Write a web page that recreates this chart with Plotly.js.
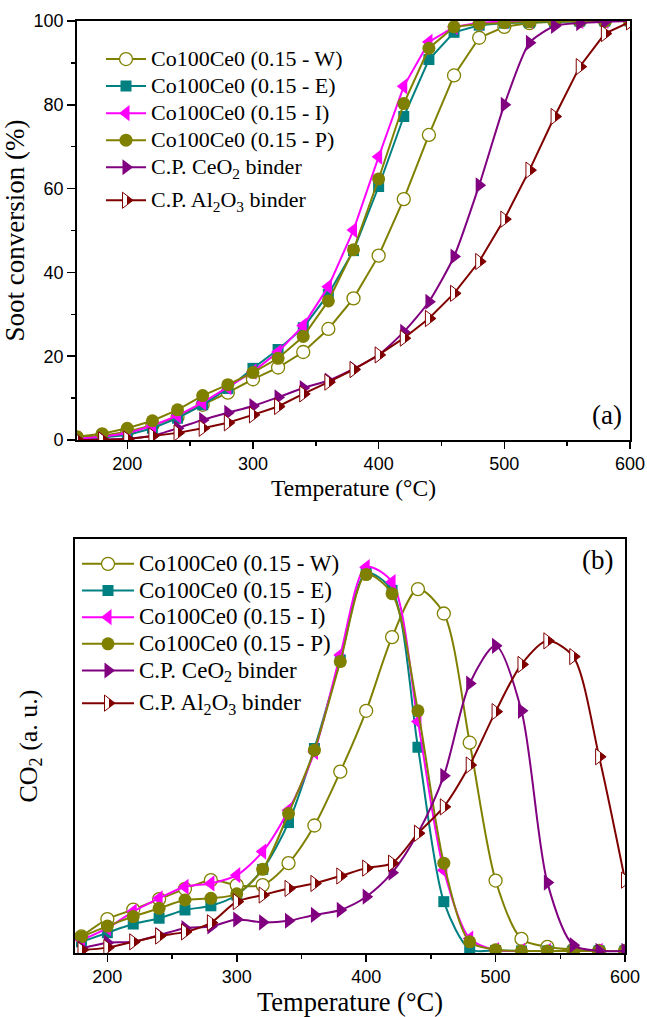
<!DOCTYPE html>
<html>
<head>
<meta charset="utf-8">
<script src="https://cdn.plot.ly/plotly-3.0.1.min.js"></script>
<style>
  html, body { margin: 0; padding: 0; background: #fff; }
  #chart { width: 647px; height: 1017px; }
</style>
</head>
<body>
<div id="chart"></div>
<script>
// ---- (a) soot conversion vs temperature ----
const tempA = [160,180,200,220,240,260,280,300,320,340,360,380,400,420,440,460,480,500,520,540,560,580,600];
const convW  = [0.5,1.0,2.0,3.5,5.5,8.4,11.3,14.5,17.3,21.0,26.5,33.8,44.0,57.5,72.8,87.0,96.0,98.6,99.5,99.8,100,100,100];
const convE  = [0.3,0.6,1.2,2.8,5.2,8.4,12.3,17.1,21.6,26.8,34.8,45.2,60.5,77.2,90.8,97.3,99.0,99.5,99.7,99.8,100,100,100];
const convI  = [0.3,0.8,1.6,3.4,5.8,8.9,12.6,16.3,21.0,27.3,36.6,50.1,67.6,84.4,95.0,98.6,99.6,99.9,100,100,100,100,100];
const convP  = [0.8,1.5,2.8,4.6,7.2,10.6,13.2,16.1,19.5,24.7,33.2,45.4,62.3,80.3,93.5,98.6,99.3,99.6,99.8,99.9,100,100,100];
const convCe = [0,0.1,0.3,1.0,2.8,4.8,6.5,8.1,10.2,12.4,14.2,17.0,20.3,25.8,33.0,43.8,60.8,80.0,94.8,98.8,99.5,99.8,100];
const convAl = [0,0,0.2,1.0,1.7,2.8,4.1,6.0,8.0,11.0,13.8,16.8,20.3,24.3,29.0,35.0,42.6,52.7,64.4,77.2,89.1,97.0,99.8];

// ---- (b) CO2 signal (arbitrary units) vs temperature ----
const tempB = [180,200,220,240,260,280,300,320,340,360,380,400,420,440,460,480,500,520,540,560,580,600];
const co2W  = [4.0,8.2,10.5,13.0,15.5,17.6,16.4,16.4,21.7,30.8,43.8,58.5,76.3,87.9,82.0,50.8,17.5,3.4,1.5,0.8,0.5,0.5];
const co2E  = [2.7,4.9,7.0,8.4,10.4,11.4,14.0,20.2,31.5,49.4,70.8,91.8,87.6,49.7,12.4,0.9,0.6,0.5,0.5,0.5,0.5,0.5];
const co2I  = [3.1,6.0,10.0,13.2,16.0,16.8,18.8,24.5,34.5,48.6,72.0,93.2,89.6,55.9,20.0,3.5,0.7,0.5,0.5,0.5,0.5,0.5];
const co2P  = [3.9,6.5,8.8,10.8,12.8,13.2,14.3,20.2,33.7,49.0,70.4,91.4,86.8,58.5,21.7,2.7,0.8,0.5,0.5,0.5,0.5,0.5];
const co2Ce = [1.1,2.5,2.7,4.3,6.0,6.4,8.1,7.4,7.8,9.2,10.4,13.6,19.4,29.0,42.8,65.1,74.2,58.5,17.0,1.9,0.5,0.5];
const co2Al = [0.7,1.3,2.7,4.1,5.1,7.3,12.4,14.0,15.6,16.8,18.6,20.5,21.7,28.9,35.3,45.4,58.3,69.7,75.4,71.6,47.4,17.6];

const seriesNames = [
  'Co100Ce0 (0.15 - W)',
  'Co100Ce0 (0.15 - E)',
  'Co100Ce0 (0.15 - I)',
  'Co100Ce0 (0.15 - P)',
  'C.P. CeO<sub>2</sub> binder',
  'C.P. Al<sub>2</sub>O<sub>3</sub> binder'
];

const OLIVE = '#808000', TEAL = '#008080', MAGENTA = '#ff00ff', PURPLE = '#800080', DARKRED = '#800000';

const styles = [
  {line: OLIVE,   marker: {symbol: 'circle',         size: 13, color: '#ffffff', line: {color: OLIVE, width: 1.3}}},
  {line: TEAL,    marker: {symbol: 'square',         size: 11, color: TEAL}},
  {line: MAGENTA, marker: {symbol: 'triangle-left',  size: 14, color: MAGENTA}},
  {line: OLIVE,   marker: {symbol: 'circle',         size: 13, color: OLIVE}},
  {line: PURPLE,  marker: {symbol: 'triangle-right', size: 14, color: PURPLE}},
  {line: DARKRED, marker: {symbol: 'triangle-right', size: 14, color: DARKRED,
                           line: {color: DARKRED, width: 1},
                           gradient: {type: 'horizontal', color: '#ffffff'}}}
];

const seriesA = [convW, convE, convI, convP, convCe, convAl];
const seriesB = [co2W, co2E, co2I, co2P, co2Ce, co2Al];
const shapeA = ['linear','linear','linear','linear','spline','linear'];

// legend rows: the glyph size is set per entry so the row pitch stays tight
const legendLabel = (name, px) => '<span style="font-size:' + px + 'px">' + name + '</span>';

const traces = [];
seriesA.forEach((vals, i) => {
  traces.push({
    x: tempA, y: vals, name: legendLabel(seriesNames[i], 22), type: 'scatter', mode: 'lines+markers',
    xaxis: 'x', yaxis: 'y', legend: 'legend', legendgroup: i < 5 ? 'a' : 'a2',
    line: {color: styles[i].line, width: 2, shape: shapeA[i], smoothing: 0.6},
    marker: styles[i].marker
  });
});
seriesB.forEach((vals, i) => {
  traces.push({
    x: tempB, y: vals, name: legendLabel(seriesNames[i], 23), type: 'scatter', mode: 'lines+markers',
    xaxis: 'x2', yaxis: 'y2', legend: 'legend2', legendgroup: i < 5 ? 'b' : 'b2',
    line: {color: styles[i].line, width: 2, shape: 'spline', smoothing: 0.8},
    marker: styles[i].marker
  });
});

const W = 647, H = 1017;
const px = v => v / W;
const py = v => 1 - v / H;

const tickFont = {family: '"Liberation Sans", Arial, sans-serif', size: 18, color: '#000'};
const serif = '"Liberation Serif", "Times New Roman", serif';

const baseX = {
  showline: true, linecolor: '#000', linewidth: 1.8, mirror: true,
  ticks: 'outside', ticklen: 7, tickwidth: 1.5, tickcolor: '#000',
  tick0: 200, dtick: 100, tickfont: tickFont,
  minor: {ticks: 'outside', ticklen: 4, tickwidth: 1.5, tickcolor: '#000', dtick: 50, tick0: 0},
  showgrid: false, zeroline: false, automargin: false
};

const layout = {
  width: W, height: H,
  margin: {l: 0, r: 0, t: 0, b: 0},
  paper_bgcolor: '#fff', plot_bgcolor: '#fff',
  showlegend: true,
  xaxis: Object.assign({}, baseX, {
    domain: [px(77), px(630)], range: [160, 600], anchor: 'y',
    title: {text: 'Temperature (°C)', font: {family: serif, size: 23.5, color: '#000'}, standoff: 6}
  }),
  yaxis: {
    domain: [py(440), py(21)], range: [0, 100], anchor: 'x',
    showline: true, linecolor: '#000', linewidth: 1.8, mirror: true,
    ticks: 'outside', ticklen: 8, tickwidth: 1.5, tickcolor: '#000',
    tick0: 0, dtick: 20, tickfont: tickFont,
    minor: {ticks: 'outside', ticklen: 4, tickwidth: 1.5, tickcolor: '#000', dtick: 10},
    showgrid: false, zeroline: false, automargin: false,
    title: {text: 'Soot conversion (%)', font: {family: serif, size: 27, color: '#000'}, standoff: 2}
  },
  xaxis2: Object.assign({}, baseX, {
    domain: [px(75), px(625)], range: [175, 600], anchor: 'y2',
    title: {text: 'Temperature (°C)', font: {family: serif, size: 26.5, color: '#000'}, standoff: 4}
  }),
  yaxis2: {
    domain: [py(953), py(539)], range: [0, 100], anchor: 'x2',
    showline: true, linecolor: '#000', linewidth: 1.8, mirror: true,
    ticks: '', showticklabels: false,
    showgrid: false, zeroline: false, automargin: false,
    title: {text: 'CO<sub>2</sub> (a. u.)', font: {family: serif, size: 26, color: '#000'}, standoff: 28}
  },
  legend: {
    x: px(101), y: py(40.5), xanchor: 'left', yanchor: 'top',
    bgcolor: 'rgba(0,0,0,0)', borderwidth: 0,
    font: {family: serif, size: 18.5, color: '#000'},
    itemwidth: 40, traceorder: 'grouped', tracegroupgap: 6
  },
  legend2: {
    x: px(77), y: py(545.5), xanchor: 'left', yanchor: 'top',
    bgcolor: 'rgba(0,0,0,0)', borderwidth: 0,
    font: {family: serif, size: 18.2, color: '#000'},
    itemwidth: 52, traceorder: 'grouped', tracegroupgap: 6
  },
  annotations: [
    {text: '(a)', xref: 'paper', yref: 'paper', x: px(607), y: py(415), showarrow: false,
     xanchor: 'center', yanchor: 'middle', font: {family: serif, size: 27, color: '#000'}},
    {text: '(b)', xref: 'paper', yref: 'paper', x: px(597), y: py(560), showarrow: false,
     xanchor: 'center', yanchor: 'middle', font: {family: serif, size: 27, color: '#000'}}
  ]
};

// The Al2O3 markers are half open: white on the flat (left) side, filled towards the tip.
// Plotly's horizontal marker gradient runs from the tip side, so the lower stop
// takes the fill colour and the upper stop the white, with a hard split between them.
function stopColor(stop) {
  return stop.getAttribute('stop-color') || stop.style.stopColor || getComputedStyle(stop).stopColor || '';
}
function isWhite(c) {
  c = c.trim().toLowerCase();
  if (c === 'white') return true;
  let rgb;
  if (c[0] === '#') {
    const h = c.length === 4 ? c.slice(1).split('').map(d => d + d) : [c.slice(1, 3), c.slice(3, 5), c.slice(5, 7)];
    rgb = h.map(v => parseInt(v, 16));
  } else {
    rgb = (c.match(/[\d.]+/g) || []).slice(0, 3).map(Number);
  }
  return rgb.length === 3 && rgb.every(v => v >= 250);
}
function setStop(stop, color, offset) {
  stop.setAttribute('stop-color', color);
  stop.style.stopColor = color;
  stop.setAttribute('offset', offset);
}
function splitHalfFill(gd) {
  gd.querySelectorAll('linearGradient').forEach(g => {
    const stops = Array.from(g.querySelectorAll('stop'))
      .sort((a, b) => parseFloat(a.getAttribute('offset')) - parseFloat(b.getAttribute('offset')));
    if (stops.length !== 2) return;
    const c = stops.map(stopColor);
    const white = isWhite(c[0]) ? c[0] : c[1];
    const fill = isWhite(c[0]) ? c[1] : c[0];
    setStop(stops[0], fill, '58%');
    setStop(stops[1], white, '58%');
  });
}

Plotly.newPlot('chart', traces, layout, {staticPlot: true, displayModeBar: false})
  .then(gd => splitHalfFill(gd));
</script>
</body>
</html>
